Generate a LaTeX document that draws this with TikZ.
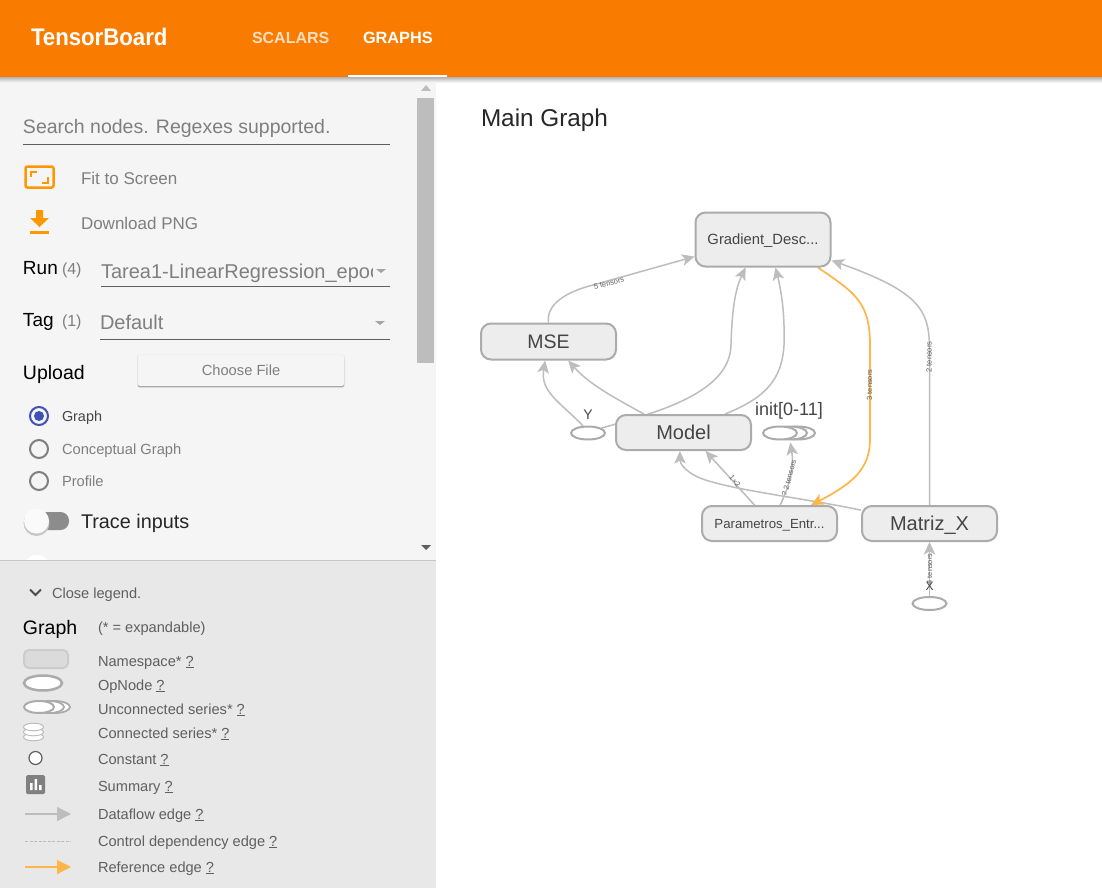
\documentclass[tikz,border=0pt]{standalone}
\usepackage{fontspec}
\setmainfont{Liberation Sans}
\newfontfamily\brandfont[FakeStretch=0.925]{Liberation Sans}
\usetikzlibrary{arrows.meta,shapes.geometric}
\definecolor{orangeH}{HTML}{F97C00}
\definecolor{panel}{HTML}{F5F5F5}
\definecolor{legendbg}{HTML}{E8E8E8}
\definecolor{edgegrey}{HTML}{BDBDBD}
\definecolor{refor}{HTML}{FFB547}
\definecolor{nodeln}{HTML}{ABABAB}
\definecolor{nodefill}{HTML}{EDEDED}
\definecolor{txtgrey}{HTML}{7F7F7F}
\definecolor{txtdark}{HTML}{5F5F5F}
\definecolor{graphtxt}{HTML}{454545}
\definecolor{icon}{HTML}{FF9800}
\definecolor{radioblue}{HTML}{3F51B5}
\pgfdeclarelayer{pagebg}
\pgfdeclarelayer{edges}
\pgfsetlayers{pagebg,edges,main}
\tikzset{
  txt/.style={anchor=base west,inner sep=0pt,outer sep=0pt},
  ns/.style={draw=nodeln,fill=nodefill,line width=2pt,rounded corners=10pt,minimum width=135pt,minimum height=36pt,inner sep=0pt,text=graphtxt,text height=14.4pt,text depth=0pt,font=\fontsize{20}{24}\selectfont},
  op/.style={draw=nodeln,fill=white,line width=2pt,ellipse,minimum width=34pt,minimum height=13pt,inner sep=0pt},
  edge/.style={draw=edgegrey,line width=1.5pt,-{Stealth[length=12.5pt,width=11.5pt,inset=3pt]}},
  refedge/.style={draw=refor,line width=1.7pt,-{Stealth[length=12.5pt,width=11.5pt,inset=3pt]}},
  elabel/.style={inner sep=0pt,text=txtdark,font=\fontsize{7.5}{8}\selectfont},
  leg/.style={txt,text=txtdark,font=\fontsize{14.6}{16}\selectfont},
  radio/.style={circle,draw=#1,line width=2pt,minimum size=18pt,inner sep=0pt},
}
\newcommand{\qm}{\underline{?}}
\begin{document}
\begin{tikzpicture}[x=1pt,y=-1pt]
\useasboundingbox (0,0) rectangle (1102,888);
\begin{pgfonlayer}{pagebg}
\fill[white] (0,0) rectangle (1102,888);
\end{pgfonlayer}
% side panel
\fill[panel] (0,78) rectangle (436,561);
\fill[edgegrey] (417,98) rectangle (434,363);
\fill[edgegrey] (421,91) -- (431,91) -- (426,85) -- cycle;
\fill[txtdark] (421,545) -- (431,545) -- (426,550) -- cycle;
% header
\shade[top color=black!30,bottom color=white] (0,77) rectangle (1102,83);
\fill[orangeH] (0,0) rectangle (1102,77);
\fill[white] (348,75) rectangle (447,77);
\node[txt,text=white,font=\brandfont\fontsize{24}{28}\selectfont\bfseries] (brand) at (31,46) {TensorBoard};
\node[txt,text=white!75!orangeH,font=\fontsize{16}{20}\selectfont\bfseries] (scalars) at (252,44) {SCALARS};
\node[txt,text=white,font=\fontsize{16.3}{20}\selectfont\bfseries] (graphs) at (363,44) {GRAPHS};
% controls
\node[txt,text=txtgrey,font=\fontsize{19.5}{24}\selectfont] (search) at (23,134) {Search nodes. Regexes supported.};
\draw[txtdark,line width=1pt] (23,144.5) -- (390,144.5);
\draw[icon,line width=2.5pt,rounded corners=2pt] (25.5,166.5) rectangle (53.5,187.5);
\draw[icon,line width=2pt] (31,177) -- (31,172) -- (37,172) (42,183) -- (48,183) -- (48,177);
\node[txt,text=txtgrey,font=\fontsize{17}{20}\selectfont] (fit) at (81,184) {Fit to Screen};
\fill[icon] (36,210) -- (43,210) -- (43,218) -- (49,218) -- (39.5,227) -- (30,218) -- (36,218) -- cycle;
\fill[icon] (30,231) rectangle (49,233.5);
\node[txt,text=txtgrey,font=\fontsize{17}{20}\selectfont] (dl) at (81,229) {Download PNG};
\node[txt,text=black,font=\fontsize{19}{22}\selectfont] (run) at (23,274) {Run};
\node[txt,text=txtgrey,font=\fontsize{16}{20}\selectfont] (runn) at (62,274) {(4)};
\begin{scope}
\clip (100,250) rectangle (372,285);
\node[txt,text=txtgrey,font=\fontsize{20}{22}\selectfont] (runv) at (101,278) {Tarea1-LinearRegression\_epoc};
\end{scope}
\fill[txtgrey!70] (376,269) -- (386,269) -- (381,273) -- cycle;
\draw[txtdark,line width=1pt] (101,286.5) -- (390,286.5);
\node[txt,text=black,font=\fontsize{19}{22}\selectfont] (tag) at (23,326) {Tag};
\node[txt,text=txtgrey,font=\fontsize{16}{20}\selectfont] (tagn) at (62,326) {(1)};
\node[txt,text=txtgrey,font=\fontsize{20}{22}\selectfont] (tagv) at (100,329) {Default};
\fill[txtgrey!70] (375,321) -- (385,321) -- (380,325) -- cycle;
\draw[txtdark,line width=1pt] (100,339.5) -- (390,339.5);
\node[txt,text=black,font=\fontsize{19.5}{22}\selectfont] (upload) at (23,379) {Upload};
\fill[black!10,rounded corners=3pt] (137,354.5) rectangle (345,388);
\fill[black!38,rounded corners=2pt] (138,358) rectangle (344,387.2);
\node[anchor=center,fill=panel,minimum width=206pt,minimum height=31pt,inner sep=0pt,rounded corners=2pt,text=txtgrey,font=\fontsize{14.7}{16}\selectfont] (choose) at (241,370.5) {Choose File};
\node[radio=radioblue] (r0) at (39,416) {};
\fill[radioblue] (r0.center) circle (5);
\node[txt,text=graphtxt,font=\fontsize{14.4}{16}\selectfont] (rg) at (62,421) {Graph};
\node[radio=txtgrey] (r1) at (39,449) {};
\node[txt,text=txtgrey,font=\fontsize{14.7}{16}\selectfont] (rc) at (62,454) {Conceptual Graph};
\node[radio=txtgrey] (r2) at (39,481) {};
\node[txt,text=txtgrey,font=\fontsize{14.7}{16}\selectfont] (rp) at (62,486) {Profile};
\fill[black!45,rounded corners=8.5pt] (38,512) rectangle (69,530);
\fill[black!22] (36.5,523) circle (13);
\fill[white!98!black] (36.5,521) circle (12.5);
\node[txt,text=black!85,font=\fontsize{19.8}{22}\selectfont] (trace) at (81,528) {Trace inputs};
\fill[white] (37,567) circle (12.5);
% legend
\fill[legendbg] (0,561) rectangle (436,888);
\draw[black!22,line width=1pt] (0,560.5) -- (436,560.5);
\draw[txtdark!80!black,line width=1.8pt] (30,589.5) -- (35.5,595) -- (41,589.5);
\node[leg] (close) at (52,598) {Close legend.};
\node[txt,text=black,font=\fontsize{19.5}{22}\selectfont] (lg) at (23,634) {Graph};
\node[leg] (lexp) at (98,632) {(* = expandable)};
\draw[fill=black!14,draw=black!20,line width=2pt,rounded corners=5pt] (24,650) rectangle (68,668);
\node[leg] (l1) at (98,666) {Namespace* \qm};
\draw[fill=white,draw=nodeln,line width=2.5pt] (43,683) ellipse (19 and 7.5);
\node[leg] (l2) at (98,690) {OpNode \qm};
\draw[fill=white,draw=nodeln,line width=1.8pt] (55,707) ellipse (15 and 6);
\draw[fill=white,draw=nodeln,line width=1.8pt] (49,707) ellipse (15 and 6);
\draw[fill=white,draw=nodeln,line width=2pt] (39,707) ellipse (15 and 6);
\node[leg] (l3) at (98,714) {Unconnected series* \qm};
\foreach \yy in {737,732,727}{\draw[fill=white,draw=nodeln!80,line width=1pt] (33.5,\yy) ellipse (10 and 3.8);}
\node[leg] (l4) at (98,738) {Connected series* \qm};
\draw[fill=white,draw=txtdark,line width=1.2pt] (35.5,758) circle (6.5);
\node[leg] (l5) at (98,764) {Constant \qm};
\fill[black!50,rounded corners=1.5pt] (26,775) rectangle (45,794);
\fill[white] (30,783) rectangle (32.5,790) (34.5,779) rectangle (37,790) (39,785) rectangle (41.5,790);
\node[leg] (l6) at (98,791) {Summary \qm};
\coordinate (d1) at (25,814); \coordinate (d2) at (71,814);
\draw[edgegrey,line width=1.2pt,-{Stealth[length=14pt,width=14pt,inset=0pt]}] (d1) -- (d2);
\node[leg] (l7) at (98,819) {Dataflow edge \qm};
\coordinate (c1) at (25,841); \coordinate (c2) at (71,841);
\draw[edgegrey,line width=1pt,dash pattern=on 3pt off 1.5pt] (c1) -- (c2);
\node[leg] (l8) at (98,846) {Control dependency edge \qm};
\coordinate (f1) at (25,867); \coordinate (f2) at (71,867);
\draw[refor,line width=1.2pt,-{Stealth[length=14pt,width=14pt,inset=0pt]}] (f1) -- (f2);
\node[leg] (l9) at (98,872) {Reference edge \qm};
% main graph
\node[txt,text=black!85,font=\fontsize{24.3}{27}\selectfont] (title) at (481,126) {Main Graph};
\node[ns,minimum height=54pt,text height=10.7pt,font=\fontsize{14.8}{16}\selectfont] (gd) at (763,239.5) {Gradient\_Desc...};
\node[ns,text height=14pt,font=\fontsize{19.5}{24}\selectfont] (mse) at (548.5,341.5) {MSE};
\node[ns,minimum height=35pt] (model) at (683.5,432.5) {Model};
\node[ns,minimum height=35pt,text height=9.5pt,font=\fontsize{13.2}{16}\selectfont] (par) at (769.5,523.5) {Parametros\_Entr...};
\node[ns,minimum height=35pt] (mat) at (929.5,523.5) {Matriz\_X};
\node[op] (y) at (588,433) {};
\node[inner sep=0pt,text=graphtxt,font=\fontsize{14}{16}\selectfont] (ylab) at (588,415) {Y};
\node[op] (x) at (929.5,603.5) {};
\node[op] (i3) at (798,433) {};
\node[op] (i2) at (790,433) {};
\node[op] (i1) at (780,433) {};
\node[inner sep=0pt,text=graphtxt,font=\fontsize{18}{20}\selectfont] (initl) at (789,411) {init[0-11]};
\begin{pgfonlayer}{edges}
\draw[edge] (mat.169) .. controls (810,499) and (730,490) .. (700,478) .. controls (682,470) and (680,462) .. (model.259);
\draw[edge] (par.129) -- (model.-40);
\draw[edge,shorten >=2pt] (par.60) .. controls (790,485) and (794,465) .. (i2.south);
\draw[edge] (mse.north) .. controls (546,305) and (565,292) .. (593,285) -- (gd.194);
\draw[edge] (y.125) .. controls (560,402) and (540,392) .. (mse.260);
\draw[edge] (model.155) .. controls (615,398) and (590,385) .. (mse.-44);
\draw[edge] (y.20) .. controls (650,414) and (730,395) .. (731,345) .. controls (732,310) and (735,290) .. (gd.238);
\draw[edge] (model.24) .. controls (765,398) and (782,380) .. (784,345) .. controls (785,312) and (781,290) .. (gd.294);
\draw[edge] (mat.north) -- (929.5,350) .. controls (929.5,310) and (920,292) .. (gd.-17);
\draw[edge] (x.north) -- (mat.south);
\draw[refedge] (gd.-27) .. controls (855,293) and (870,302) .. (870,345) -- (870,440) .. controls (870,470) and (850,485) .. (par.24);
\end{pgfonlayer}
\node[elabel,rotate=14] (l5t) at (609,283) {5 tensors};
\node[elabel,rotate=90] (l3t) at (869.5,385) {3 tensors};
\node[elabel,rotate=90] (l2t) at (929,357) {2 tensors};
\node[elabel,rotate=-50] (l12) at (735,481) {1×2};
\node[elabel,rotate=75] (l22) at (789,478) {? 2 tensors};
\node[elabel,rotate=90] (l4t) at (929.5,569) {4 tensors};
\node[inner sep=0pt,text=black!75,font=\fontsize{12}{14}\selectfont] (xl) at (929.5,586) {X};
\end{tikzpicture}
\end{document}
